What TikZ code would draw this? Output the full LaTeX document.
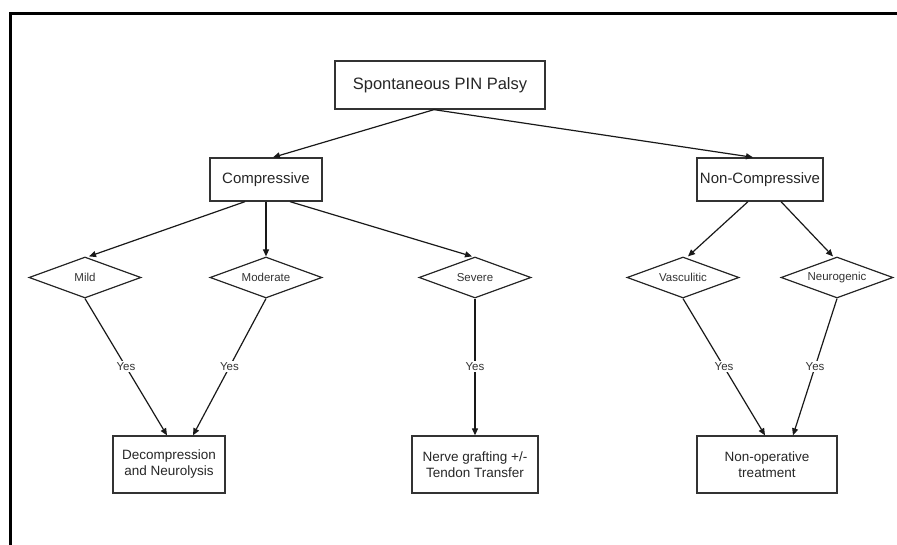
\documentclass[tikz,border=0pt]{standalone}
\usepackage{fontspec}
\setmainfont{Liberation Sans}
\usetikzlibrary{shapes.geometric,arrows.meta}
\begin{document}
\begin{tikzpicture}[x=1pt,y=-1pt,
 box/.style={draw=black!80, line width=1.3pt, rectangle, inner sep=0pt, text=black!85, align=center},
 dia/.style={draw=black!85, line width=1.2pt, diamond, aspect=2.73, inner sep=0pt, minimum width=112pt, minimum height=41pt, font=\fontsize{11.5}{13}\selectfont, text=black!80},
 arr/.style={draw=black!90, line width=1.2pt, -{Triangle[length=7pt,width=6pt]}},
 yes/.style={fill=white, inner sep=1.5pt, font=\fontsize{11.5}{13}\selectfont, text=black!80},
]
\useasboundingbox (0,0) rectangle (897,545);
\draw[line width=3pt] (10.5,545) -- (10.5,14) -- (897,14);

\node[box, minimum width=210pt, minimum height=48pt, font=\fontsize{16.5}{19}\selectfont] (top) at (440,85) {Spontaneous PIN Palsy};
\node[box, minimum width=112pt, minimum height=43pt, font=\fontsize{15}{18}\selectfont] (comp) at (266,179.5) {Compressive};
\node[box, minimum width=126pt, minimum height=43pt, font=\fontsize{15}{18}\selectfont] (noncomp) at (760,179.5) {Non-Compressive};

\node[dia] (mild) at (85,277.5) {Mild};
\node[dia] (mod) at (266,277.5) {Moderate};
\node[dia] (sev) at (475,277.5) {Severe};
\node[dia] (vas) at (683,277.5) {Vasculitic};
\node[dia] (neu) at (837,277.5) {Neurogenic};

\node[box, minimum width=112pt, minimum height=57pt, font=\fontsize{13.5}{16}\selectfont] (dec) at (169,464.5) {Decompression\\and Neurolysis};
\node[box, minimum width=126pt, minimum height=57pt, font=\fontsize{13.5}{16}\selectfont] (nerve) at (475,464.5) {Nerve grafting +/-\\Tendon Transfer};
\node[box, minimum width=140pt, minimum height=57pt, font=\fontsize{13.5}{16}\selectfont] (nonop) at (767,464.5) {Non-operative\\treatment};

\draw[arr] ([xshift=-6pt]top.south) -- ([xshift=7pt]comp.north);
\draw[arr] ([xshift=-6pt]top.south) -- ([xshift=-7pt]noncomp.north);

\draw[arr] ([xshift=-21pt]comp.south) -- ([xshift=4pt]mild.north);
\draw[arr] (comp.south) -- (mod.north);
\draw[arr] ([xshift=24pt]comp.south) -- ([xshift=-3pt]sev.north);

\draw[arr] ([xshift=-12pt]noncomp.south) -- ([xshift=5pt]vas.north);
\draw[arr] ([xshift=21pt]noncomp.south) -- ([xshift=-4pt]neu.north);

\draw[arr] (mild.south) -- node[yes]{Yes} ([xshift=-2pt]dec.north);
\draw[arr] (mod.south) -- node[yes]{Yes} ([xshift=24pt]dec.north);
\draw[arr] (sev.south) -- node[yes]{Yes} (nerve.north);
\draw[arr] (vas.south) -- node[yes]{Yes} ([xshift=-2pt]nonop.north);
\draw[arr] (neu.south) -- node[yes]{Yes} ([xshift=26pt]nonop.north);
\end{tikzpicture}
\end{document}
